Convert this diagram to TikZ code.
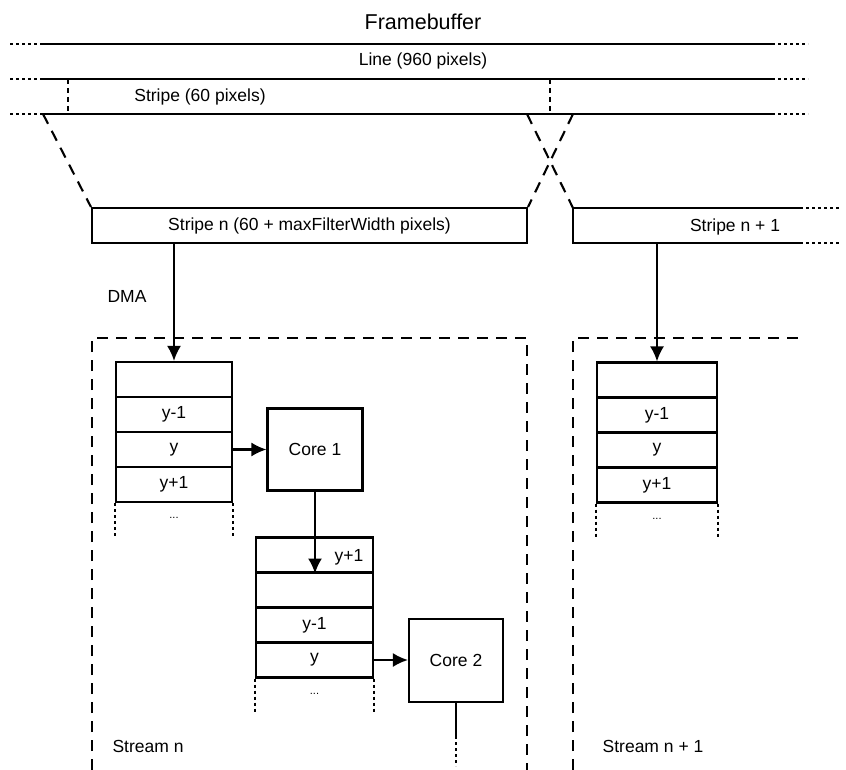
\documentclass[tikz,border=0pt]{standalone}
\usepackage{fontspec}
\setmainfont{Liberation Sans}
\usetikzlibrary{arrows.meta}
\usetikzlibrary{calc}

\begin{document}
\begin{tikzpicture}[x=1pt, y=-1pt, line width=2.1pt,
	line/.style={-{Latex[length=15pt,width=14pt]}},
	txt/.style={inner sep=0pt, font=\fontsize{17.5}{20}\selectfont},
	cell/.style={draw, rectangle, inner sep=0pt, minimum width=116pt, minimum height=35pt, font=\fontsize{17.5}{20}\selectfont},
	core/.style={draw, rectangle, inner sep=0pt, minimum width=95pt, minimum height=82pt, font=\fontsize{17.5}{20}\selectfont},
	dots/.style={dash pattern=on 3pt off 3pt},
	cut/.style={dash pattern=on 11pt off 8pt},
	tick/.style={dash pattern=on 5pt off 4pt}]

	\useasboundingbox (0,0) rectangle (846,770);

	% framebuffer lines
	\node[inner sep=0pt, font=\fontsize{21.5}{25}\selectfont] (fb) at (423,22) {Framebuffer};

	\coordinate (t0) at (10,44);
	\coordinate (t1) at (40,44);
	\coordinate (t2) at (772,44);
	\coordinate (t3) at (808,44);
	\coordinate (m0) at (10,79);
	\coordinate (m1) at (40,79);
	\coordinate (m2) at (772,79);
	\coordinate (m3) at (808,79);
	\coordinate (b0) at (10,114);
	\coordinate (b1) at (40,114);
	\coordinate (b2) at (772,114);
	\coordinate (b3) at (808,114);

	\draw[dots] (t0) -- (t1);
	\draw (t1) -- (t2);
	\draw[dots] (t2) -- (t3);
	\draw[dots] (m0) -- (m1);
	\draw (m1) -- (m2);
	\draw[dots] (m2) -- (m3);
	\draw[dots] (b0) -- (b1);
	\draw (b1) -- (b2);
	\draw[dots] (b2) -- (b3);

	\node[txt] (line) at (423,61) {Line (960 pixels)};
	\node[txt] (stripe) at (200,97) {Stripe (60 pixels)};

	\draw[tick] (68,79) -- (68,114);
	\draw[tick] (550,79) -- (550,114);

	% stripes
	\node[draw, rectangle, inner sep=0pt, minimum width=435pt, minimum height=35pt,
		font=\fontsize{17.5}{20}\selectfont] (sn) at (309.5,225.5)
		{Stripe n (60 + maxFilterWidth pixels)};

	\coordinate (s0) at (573,208);
	\coordinate (s1) at (573,243);
	\coordinate (s2) at (800,208);
	\coordinate (s3) at (800,243);
	\draw (s2) -- (s0) -- (s1) -- (s3);
	\draw[dots] (s2) -- ++(40,0);
	\draw[dots] (s3) -- ++(40,0);
	\node[txt] (sn1) at (735,227) {Stripe n + 1};
	\coordinate (sn1b) at (657,243);

	\draw[cut] (43,114) -- (sn.north west);
	\draw[cut] (573,114) -- (sn.north east);
	\draw[cut] (527,114) -- (s0);

	% stream n
	\draw[cut] (92,770) -- (92,338) -- (527,338) -- (527,770);
	\node[txt] (stn) at (148,746) {Stream n};

	\node[cell] (b1a) at (174,379.5) {};
	\node[cell] (b1b) at (174,414.5) {y-1};
	\node[cell] (b1c) at (174,449.5) {y};
	\node[cell] (b1d) at (174,484.5) {y+1};
	\draw[dots] (b1d.south west) -- ++(0,33);
	\draw[dots] (b1d.south east) -- ++(0,33);
	\node[inner sep=0pt, font=\fontsize{11}{12}\selectfont] (b1e) at (174,518) {...};

	\draw[line] (sn.south -| b1a.north) -- (b1a.north);
	\node[txt] (dma) at (127,296) {DMA};

	\node[core] (c1) at (315,449.5) {Core 1};
	\draw[line] (b1c.east) -- (c1.west);

	\node[cell, minimum width=117pt] (b2a) at (314.5,555) {};
	\node[cell, minimum width=117pt] (b2b) at (314.5,590) {};
	\node[cell, minimum width=117pt] (b2c) at (314.5,625) {y-1};
	\node[cell, minimum width=117pt] (b2d) at (314.5,660) {y};
	\draw[dots] (b2d.south west) -- ++(0,33);
	\draw[dots] (b2d.south east) -- ++(0,33);
	\node[inner sep=0pt, font=\fontsize{11}{12}\selectfont] (b2e) at (314.5,694) {...};
	\node[txt] (y1) at (349,557) {y+1};

	\draw[line] (c1.south) -- (c1.south |- b2a.south);

	\node[core, minimum width=94pt, minimum height=83pt] (c2) at (456,660.5) {Core 2};
	\draw[line] (b2d.east) -- (b2d.east -| c2.west);
	\coordinate (c2t) at ($(c2.south)+(0,33)$);
	\draw (c2.south) -- (c2t);
	\draw[dots] (c2t) -- ++(0,30);

	% stream n + 1
	\draw[cut] (573,770) -- (573,338) -- (800,338);
	\node[txt] (stn1) at (653,746) {Stream n + 1};

	\node[cell, minimum width=120pt] (b3a) at (657,380) {};
	\node[cell, minimum width=120pt] (b3b) at (657,415) {y-1};
	\node[cell, minimum width=120pt] (b3c) at (657,450) {y};
	\node[cell, minimum width=120pt] (b3d) at (657,485) {y+1};
	\draw[dots] (b3d.south west) -- ++(0,33);
	\draw[dots] (b3d.south east) -- ++(0,33);
	\node[inner sep=0pt, font=\fontsize{11}{12}\selectfont] (b3e) at (657,519) {...};

	\draw[line] (sn1b) -- (b3a.north);

\end{tikzpicture}
\end{document}
